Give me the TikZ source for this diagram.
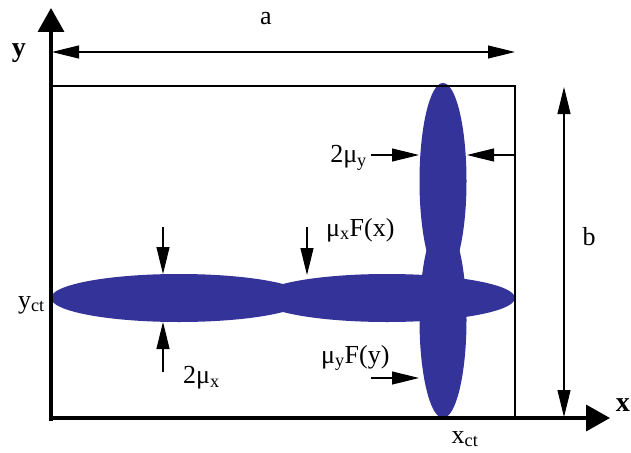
\documentclass[tikz,border=0pt]{standalone}
\usepackage{fontspec}
\setmainfont{Liberation Serif}
\usetikzlibrary{arrows.meta}
\definecolor{spot}{RGB}{51,51,153}
\tikzset{
  axis/.style={line width=3.6pt,-{Triangle[length=24pt,width=26pt]}},
  dim/.style={line width=1.1pt,{Triangle[length=27pt,width=13pt]}-{Triangle[length=27pt,width=13pt]}},
  ptr/.style={line width=1.1pt,-{Triangle[length=27pt,width=13pt]}},
  frame/.style={line width=1.1pt},
  lbl/.style={inner sep=0pt,font=\fontsize{26}{30}\selectfont},
  axlbl/.style={inner sep=0pt,font=\fontsize{28}{32}\selectfont\bfseries},
}
\begin{document}
\begin{tikzpicture}[x=1pt,y=-1pt]
\useasboundingbox (0,0) rectangle (631,452);
% spot
\fill[spot] (179,298) ellipse [x radius=128,y radius=24];
\fill[spot] (387,298) ellipse [x radius=128,y radius=24];
\fill[spot] (443,181) ellipse [x radius=23.5,y radius=98];
\fill[spot] (443,320) ellipse [x radius=23.5,y radius=98];
% frame
\coordinate (o) at (51,418);
\coordinate (tl) at (51,86);
\coordinate (tr) at (515,86);
\coordinate (br) at (515,418);
\draw[frame] (tl) -- (tr) -- (br);
% axes
\coordinate (ytip) at (51,8);
\coordinate (xtip) at (610,418);
\coordinate (ybot) at (51,421);
\coordinate (xleft) at (49,418);
\draw[axis] (ybot) -- (ytip);
\draw[axis] (xleft) -- (xtip);
\node[axlbl] (ylab) at (19,53) {y};
\node[axlbl,anchor=east] (xlab) at (630,405) {x};
% dimension a
\coordinate (a1) at (52,52);
\coordinate (a2) at (515,52);
\draw[dim] (a1) -- (a2);
\node[lbl] (alab) at (266,19) {a};
% dimension b
\coordinate (b1) at (564,87);
\coordinate (b2) at (564,417);
\draw[dim] (b1) -- (b2);
\node[lbl] (blab) at (589,237) {b};
% 2 mu_y
\coordinate (my1) at (371,155);
\coordinate (my2) at (419,155);
\coordinate (my3) at (515,155);
\coordinate (my4) at (467,155);
\draw[ptr] (my1) -- (my2);
\draw[ptr] (my3) -- (my4);
\node[lbl,anchor=east] (mylab) at (367,158) {2μ\textsubscript{y}};
% 2 mu_x
\coordinate (mx1) at (163,227);
\coordinate (mx2) at (163,274);
\coordinate (mx3) at (163,372);
\coordinate (mx4) at (163,322);
\draw[ptr] (mx1) -- (mx2);
\draw[ptr] (mx3) -- (mx4);
\node[lbl,anchor=west] (mxlab) at (183,378) {2μ\textsubscript{x}};
% mu_x F(x)
\coordinate (fx1) at (307,227);
\coordinate (fx2) at (307,275);
\draw[ptr] (fx1) -- (fx2);
\node[lbl,anchor=west] (fxlab) at (326,230) {μ\textsubscript{x}F(x)};
% mu_y F(y)
\coordinate (fy1) at (371,378);
\coordinate (fy2) at (419,378);
\draw[ptr] (fy1) -- (fy2);
\node[lbl,anchor=west] (fylab) at (321,358) {μ\textsubscript{y}F(y)};
% ct labels
\node[lbl,anchor=east] (yct) at (45,305) {y\textsubscript{ct}};
\node[lbl] (xct) at (465,439) {x\textsubscript{ct}};
\end{tikzpicture}
\end{document}
